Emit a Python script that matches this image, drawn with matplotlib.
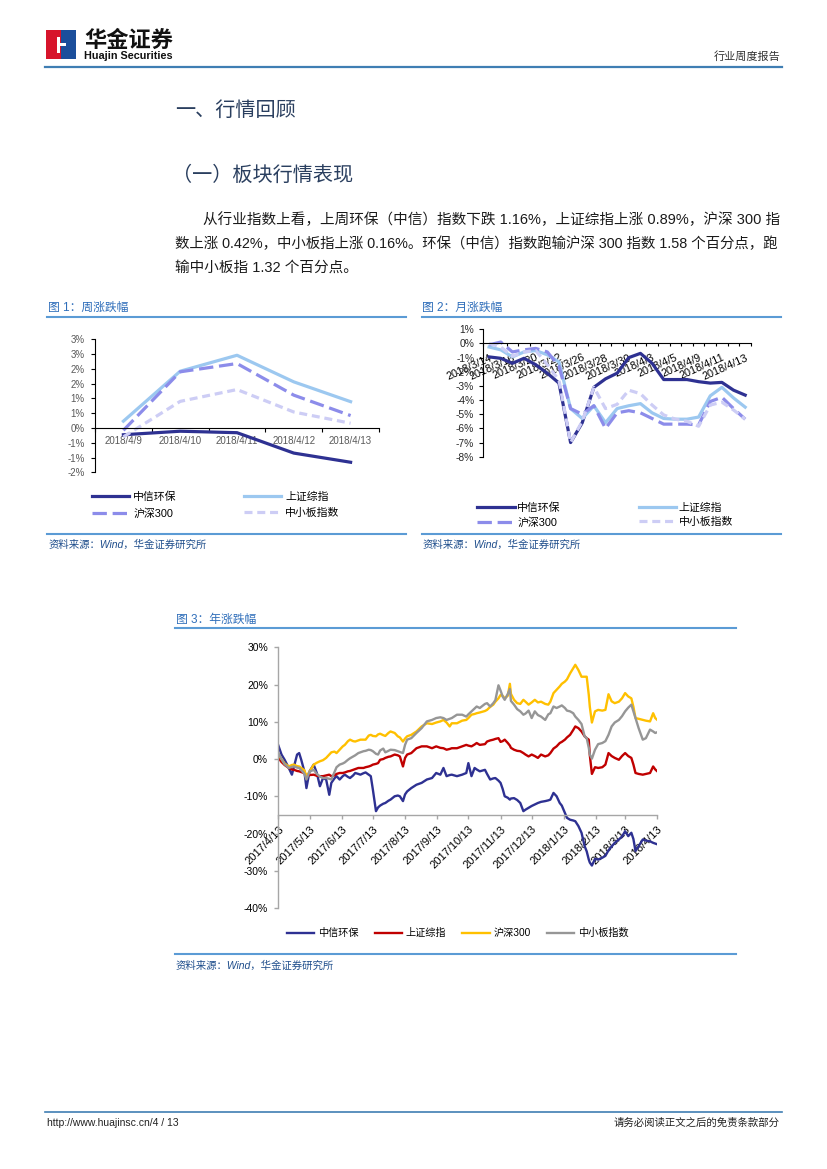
import numpy as np
import matplotlib
matplotlib.use('Agg')
import matplotlib.pyplot as plt
from matplotlib.lines import Line2D
from matplotlib.patches import Rectangle

plt.rcParams['font.family'] = ['Liberation Sans', 'Noto Sans CJK SC', 'DejaVu Sans']

# ---------------- data ----------------
names = ['中信环保', '上证综指', '沪深300', '中小板指数']

# 图1 周涨跌幅 (%)
week_dates = ['2018/4/9', '2018/4/10', '2018/4/11', '2018/4/12', '2018/4/13']
week_hb = [-0.23, -0.11, -0.16, -0.85, -1.16]
week_sz = [0.23, 1.92, 2.46, 1.56, 0.89]
week_hs300 = [-0.08, 1.90, 2.18, 1.11, 0.42]
week_zxb = [-0.30, 0.90, 1.30, 0.54, 0.16]
week_yticks = [-1.5, -1.0, -0.5, 0.0, 0.5, 1.0, 1.5, 2.0, 2.5, 3.0]
week_ylabels = ['-2%', '-1%', '-1%', '0%', '1%', '1%', '2%', '2%', '3%', '3%']

# 图2 月涨跌幅 (%)
month_dates = ['2018/3/14', '2018/3/15', '2018/3/16', '2018/3/19', '2018/3/20', '2018/3/21',
               '2018/3/22', '2018/3/23', '2018/3/26', '2018/3/27', '2018/3/28', '2018/3/29',
               '2018/3/30', '2018/4/2', '2018/4/3', '2018/4/4', '2018/4/5', '2018/4/6',
               '2018/4/9', '2018/4/10', '2018/4/11', '2018/4/12', '2018/4/13']
month_hb = [-0.95, -1.05, -1.4, -1.05, -1.5, -2.1, -2.8, -7.0, -5.6, -3.1, -2.5, -2.1,
            -1.0, -0.7, -1.4, -2.55, -2.55, -2.55, -2.7, -2.8, -2.75, -3.3, -3.65]
month_sz = [-0.25, -0.45, -0.95, -0.6, -0.5, -0.8, -1.3, -4.6, -5.3, -4.4, -5.6, -4.6,
            -4.4, -4.25, -4.9, -5.3, -5.35, -5.35, -5.2, -3.7, -3.1, -3.85, -4.5]
month_hs300 = [-0.1, 0.1, -0.6, -0.45, -0.35, -0.6, -1.6, -4.6, -5.0, -4.4, -6.0, -4.9,
               -4.75, -4.9, -5.3, -5.7, -5.7, -5.7, -5.75, -4.1, -3.8, -4.6, -5.35]
month_zxb = [0.0, -0.25, -0.9, -0.6, -0.5, -1.5, -2.6, -7.0, -5.5, -3.1, -4.6, -4.3,
             -3.3, -3.55, -4.35, -5.05, -5.35, -5.5, -5.85, -4.35, -4.15, -4.7, -5.35]
month_yticks = [-8, -7, -6, -5, -4, -3, -2, -1, 0, 1]

# 图3 年涨跌幅 (%), x = days since 2017-04-13
year_start = '2017-04-13'
year_days = [0, 3, 6, 10, 13, 15, 18, 20, 22, 25, 27, 30, 34, 37, 40, 43, 46, 49, 51, 54,
             56, 59, 62, 64, 67, 69, 72, 74, 77, 79, 82, 84, 87, 89, 91, 94, 96, 98, 101, 103,
             106, 108, 112, 115, 117, 120, 122, 124, 128, 133, 138, 143, 148, 152, 156, 159, 162, 165, 167, 172,
             177, 181, 183, 186, 189, 191, 194, 199, 201, 204, 207, 209, 212, 214, 216, 218, 221, 223, 224, 227,
             230, 233, 236, 238, 241, 244, 247, 250, 253, 257, 260, 262, 265, 268, 271, 273, 276, 278, 281, 284,
             286, 289, 292, 295, 297, 299, 300, 302, 305, 308, 312, 315, 318, 321, 324, 328, 331, 334, 337, 340,
             342, 344, 347, 351, 354, 358, 361, 363, 365]
year_hb = [3.6, 1.2, -0.2, -2.4, -4.2, -2.0, 1.2, 1.6, -0.2, -3.3, -7.8, -3.3, -1.5, -3.75, -7.3, -5.1, -5.5, -9.6, -6.4, -5.2,
           -4.6, -5.5, -4.6, -4.2, -4.8, -5.1, -4.4, -3.75, -4.0, -4.2, -3.8, -3.6, -4.2, -4.6, -8.2, -14.0, -13.0, -12.5, -12.0, -11.8,
           -11.2, -10.9, -10.0, -9.8, -10.0, -11.3, -9.5, -8.7, -7.8, -6.9, -6.4, -5.5, -5.1, -3.75, -4.2, -2.4, -4.6, -4.3, -4.2, -4.6,
           -4.2, -3.75, -1.1, -4.6, -2.4, -2.8, -3.3, -2.9, -4.0, -5.5, -5.2, -5.1, -5.8, -6.4, -8.0, -10.0, -10.4, -10.9, -10.6, -10.5,
           -11.0, -11.8, -14.0, -13.6, -13.1, -12.6, -12.2, -11.8, -11.5, -11.3, -11.1, -10.9, -9.1, -10.0, -11.8, -12.5, -14.5, -15.8, -16.3, -16.5,
           -16.7, -18.0, -19.8, -23.4, -24.8, -27.0, -27.8, -28.6, -26.8, -27.0, -26.5, -26.0, -24.5, -23.5, -22.5, -21.6, -20.8, -19.4, -20.7, -19.8,
           -21.5, -24.7, -23.4, -21.6, -21.9, -22.1, -22.5, -22.7, -22.9]
year_sz = [0.3, -0.8, -1.6, -2.4, -2.8, -2.9, -3.2, -3.3, -3.5, -3.8, -4.4, -4.3, -4.2, -4.5, -4.6, -4.6, -4.4, -4.2, -4.6, -4.4,
           -4.0, -3.75, -3.75, -3.6, -3.3, -3.2, -2.9, -2.7, -2.4, -2.4, -2.4, -2.2, -2.0, -1.8, -1.5, -1.3, -1.1, -0.2, 0.0, 0.3,
           0.6, 0.7, 1.2, 1.0, 0.7, -2.0, 0.3, 1.2, 1.6, 2.9, 3.4, 3.4, 2.9, 3.4, 3.0, 2.9, 2.5, 2.7, 2.9, 2.9,
           3.4, 3.8, 3.6, 3.4, 3.9, 4.3, 3.8, 4.0, 4.7, 5.0, 5.2, 5.4, 5.6, 4.6, 4.8, 5.2, 4.3, 3.6, 3.0, 2.5,
           2.2, 2.1, 1.6, 1.2, 0.7, 1.2, 0.8, 0.3, 1.2, 0.7, 1.0, 1.6, 2.8, 3.4, 4.3, 4.6, 5.2, 5.8, 6.5, 7.8,
           8.75, 8.3, 7.4, 6.1, 5.6, 5.2, 1.0, -4.0, -2.2, -2.4, -2.2, -1.5, 1.6, 0.8, 0.3, -0.2, 0.8, 1.6, 0.8, 0.3,
           -1.5, -3.75, -4.0, -4.2, -4.0, -3.75, -2.0, -2.8, -3.3]
year_hs300 = [1.2, 0.0, -1.2, -2.0, -1.6, -1.5, -1.9, -2.0, -2.4, -3.0, -4.6, -3.4, -1.5, -1.0, -0.6, -0.3, 0.3, 1.2, 1.8, 2.0,
              1.6, 2.5, 3.4, 3.8, 4.8, 5.2, 4.8, 4.7, 5.0, 5.2, 5.2, 5.2, 6.3, 6.5, 6.2, 6.1, 6.6, 6.8, 6.4, 6.2,
              7.0, 7.4, 7.0, 6.1, 5.8, 4.7, 5.5, 6.1, 6.5, 7.4, 8.75, 9.6, 9.4, 9.8, 10.1, 10.5, 9.8, 8.75, 9.6, 9.6,
              10.3, 10.5, 11.0, 11.9, 12.1, 12.3, 12.5, 12.9, 13.2, 14.0, 14.6, 15.4, 16.3, 17.2, 17.0, 16.3, 17.0, 20.2, 17.5, 15.9,
              15.0, 14.8, 15.9, 15.4, 14.6, 15.2, 15.9, 15.2, 15.4, 14.8, 14.6, 15.4, 17.7, 18.6, 19.5, 20.2, 20.8, 21.4, 23.0, 24.4,
              25.3, 23.9, 22.1, 22.1, 22.1, 17.2, 14.0, 9.8, 12.8, 13.2, 13.0, 13.2, 17.4, 15.5, 15.0, 15.4, 16.3, 17.7, 16.8, 16.3,
              14.0, 11.0, 10.8, 10.5, 10.3, 10.1, 12.3, 11.0, 10.5]
year_zxb = [1.6, 0.0, -1.4, -2.4, -2.1, -2.0, -2.3, -2.4, -3.0, -3.9, -5.5, -3.4, -2.9, -4.0, -4.7, -5.1, -5.1, -5.3, -5.5, -3.5,
            -2.2, -1.5, -1.2, -0.9, -0.2, 0.2, 0.7, 1.0, 1.6, 1.8, 2.1, 2.2, 2.5, 2.4, 2.1, 1.4, 1.2, 2.3, 2.8, 1.8,
            2.2, 2.5, 2.4, 2.1, 1.9, 1.6, 3.8, 5.2, 5.6, 7.0, 8.3, 10.1, 10.5, 11.0, 11.2, 11.0, 10.5, 10.8, 11.0, 11.9,
            11.9, 11.4, 12.0, 12.8, 13.6, 14.1, 13.7, 14.8, 15.0, 14.1, 15.0, 15.8, 19.8, 18.4, 16.8, 15.9, 17.5, 18.8, 15.6, 14.6,
            13.4, 12.8, 11.9, 12.2, 13.0, 11.0, 12.8, 11.8, 11.4, 10.5, 12.0, 12.3, 14.1, 13.7, 14.1, 14.4, 13.7, 13.0, 12.8, 12.3,
            11.4, 10.5, 9.4, 6.1, 5.6, 3.0, 1.2, 0.1, 2.5, 4.0, 4.3, 4.8, 6.5, 8.75, 9.8, 10.5, 11.5, 12.8, 13.8, 14.6,
            12.8, 11.0, 8.3, 5.2, 5.6, 7.9, 7.4, 7.0, 7.2]
year_xlabels = ['2017/4/13', '2017/5/13', '2017/6/13', '2017/7/13', '2017/8/13', '2017/9/13', '2017/10/13',
                '2017/11/13', '2017/12/13', '2018/1/13', '2018/2/13', '2018/3/13', '2018/4/13']
year_yticks = [-40, -30, -20, -10, 0, 10, 20, 30]

# ---------------- page ----------------
W, H = 827, 1169
fig = plt.figure(figsize=(W / 100, H / 100), dpi=100)


def px_rect(l, t, r, b):
    return [l / W, 1 - b / H, (r - l) / W, (b - t) / H]


def put(x, y, s, **kw):
    kw.setdefault('va', 'center')
    return fig.text(x / W, 1 - y / H, s, **kw)


def hline(x0, x1, y, color, lw):
    fig.add_artist(Line2D([x0 / W, x1 / W], [1 - y / H, 1 - y / H], color=color, lw=lw))


def box(l, t, r, b, color):
    fig.add_artist(Rectangle((l / W, 1 - b / H), (r - l) / W, (b - t) / H,
                             transform=fig.transFigure, color=color, lw=0))


# header
box(46, 30, 61, 59, '#D7142B')
box(61, 30, 76, 59, '#1B4E9B')
box(57, 37, 60, 53, 'white')
box(60, 43, 66, 46, 'white')
put(84, 40, '华金证券', fontsize=16, fontweight='bold', family='Noto Sans CJK SC', color='#111111')
put(84, 56, 'Huajin Securities', fontsize=7.8, fontweight='bold', color='#111111')
put(780, 57, '行业周度报告', fontsize=8, ha='right', color='#333333')
hline(45, 782, 67, '#3F7EB3', 1.6)

head_c = '#2A3F5F'
put(175, 110, '一、行情回顾', fontsize=14.5, color=head_c)
put(172, 175, '（一）板块行情表现', fontsize=14.5, color=head_c)
body_c = '#1A1A1A'
put(203, 220, '从行业指数上看，上周环保（中信）指数下跌 1.16%，上证综指上涨 0.89%，沪深 300 指',
    fontsize=10.5, color=body_c)
put(175, 244, '数上涨 0.42%，中小板指上涨 0.16%。环保（中信）指数跑输沪深 300 指数 1.58 个百分点，跑',
    fontsize=10.4, color=body_c)
put(175, 268, '输中小板指 1.32 个百分点。', fontsize=10.5, color=body_c)

title_c = '#2F6EBA'
line_c = '#5B9BD5'
src_c = '#1F4E8C'
src = '资料来源：Wind，华金证券研究所'

put(48, 308, '图 1：周涨跌幅', fontsize=8.5, color=title_c)
hline(47, 406, 317, line_c, 1.5)
hline(47, 406, 534, line_c, 1.5)
put(49, 545, src, fontsize=7.5, style='italic', color=src_c)

put(422, 308, '图 2：月涨跌幅', fontsize=8.5, color=title_c)
hline(422, 781, 317, line_c, 1.5)
hline(422, 781, 534, line_c, 1.5)
put(423, 545, src, fontsize=7.5, style='italic', color=src_c)

put(176, 620, '图 3：年涨跌幅', fontsize=8.5, color=title_c)
hline(175, 736, 628, line_c, 1.5)
hline(175, 736, 954, line_c, 1.5)
put(176, 966, src, fontsize=7.5, style='italic', color=src_c)

hline(45, 782, 1112, '#3F7EB3', 1.2)
put(47, 1123, 'http://www.huajinsc.cn/4 / 13', fontsize=7.5, color='#222222')
put(780, 1123, '请务必阅读正文之后的免责条款部分', fontsize=7.5, ha='right', color='#222222')

# colours
c_hb, c_sz, c_hs, c_zx = '#2E3192', '#9CC8F0', '#8C8CEA', '#CDCDF5'

# ---------------- 图1 ----------------
ax1 = fig.add_axes(px_rect(95, 339.3, 379, 472.3))
x1 = np.arange(len(week_dates))
l1 = ax1.plot(x1, week_hb, color=c_hb, lw=2.3)[0]
l2 = ax1.plot(x1, week_sz, color=c_sz, lw=2.3)[0]
l3 = ax1.plot(x1, week_hs300, color=c_hs, lw=2.3, dashes=(4.5, 1.8))[0]
l4 = ax1.plot(x1, week_zxb, color=c_zx, lw=2.3, dashes=(2.5, 1.5))[0]
ax1.set_xlim(-0.5, len(week_dates) - 0.5)
ax1.set_ylim(-1.5, 3.0)
for s in ['top', 'right']:
    ax1.spines[s].set_visible(False)
ax1.spines['bottom'].set_position(('data', 0))
for s in ['bottom', 'left']:
    ax1.spines[s].set_linewidth(0.8)
ax1.set_xticks(x1)
ax1.set_xticklabels(week_dates)
ax1.set_xticks(np.arange(-0.5, len(week_dates), 1), minor=True)
ax1.tick_params(axis='x', which='major', length=0, pad=5.5, labelsize=7, labelcolor='#595959')
ax1.tick_params(axis='x', which='minor', length=3, width=0.8)
ax1.set_yticks(week_yticks)
ax1.set_yticklabels(week_ylabels)
ax1.tick_params(axis='y', length=3, width=0.8, pad=4.5, labelsize=7, labelcolor='#595959')
ax1.patch.set_alpha(0)
ax1.legend([l1, l3, l2, l4], [names[0], names[2], names[1], names[3]], ncol=2,
           loc='upper left', bbox_to_anchor=(92 / W, 1 - 491 / H), bbox_transform=fig.transFigure,
           frameon=False, fontsize=7.8, handlelength=3.4, handletextpad=0.4,
           columnspacing=6.2, labelspacing=0.58, borderpad=0, borderaxespad=0)

# ---------------- 图2 ----------------
ax2 = fig.add_axes(px_rect(483.3, 329.3, 751, 456.7))
x2 = np.arange(len(month_dates))
m1 = ax2.plot(x2, month_hb, color=c_hb, lw=2.3)[0]
m2 = ax2.plot(x2, month_sz, color=c_sz, lw=2.3)[0]
m3 = ax2.plot(x2, month_hs300, color=c_hs, lw=2.3, dashes=(4.5, 1.8))[0]
m4 = ax2.plot(x2, month_zxb, color=c_zx, lw=2.3, dashes=(2.5, 1.5))[0]
ax2.set_xlim(-0.5, len(month_dates) - 0.5)
ax2.set_ylim(-8, 1)
for s in ['top', 'right']:
    ax2.spines[s].set_visible(False)
ax2.spines['bottom'].set_position(('data', 0))
for s in ['bottom', 'left']:
    ax2.spines[s].set_linewidth(0.8)
ax2.set_xticks(x2[::2])
ax2.set_xticklabels(month_dates[::2])
ax2.set_xticks(np.arange(-0.5, len(month_dates), 1), minor=True)
ax2.tick_params(axis='x', which='major', length=0, pad=6.5, labelsize=7.8, labelcolor='black')
ax2.tick_params(axis='x', which='minor', length=2.5, width=0.8)
for lab in ax2.get_xticklabels():
    lab.set_rotation(24)
    lab.set_ha('right')
    lab.set_rotation_mode('anchor')
ax2.set_yticks(month_yticks)
ax2.set_yticklabels([f'{v}%' for v in month_yticks])
ax2.tick_params(axis='y', length=3, width=0.8, pad=3.5, labelsize=7.4, labelcolor='#262626')
ax2.patch.set_alpha(0)
ax2.legend([m1, m3, m2, m4], [names[0], names[2], names[1], names[3]], ncol=2,
           loc='upper left', bbox_to_anchor=(477 / W, 1 - 502 / H), bbox_transform=fig.transFigure,
           frameon=False, fontsize=7.8, handlelength=3.5, handletextpad=0.2,
           columnspacing=7.2, labelspacing=0.43, borderpad=0, borderaxespad=0)

# ---------------- 图3 ----------------
ax3 = fig.add_axes(px_rect(278.4, 647.3, 657.3, 908))
base = np.datetime64(year_start)
x3 = base + np.array(year_days).astype('timedelta64[D]')
n1 = ax3.plot(x3, year_hb, color='#2E3192', lw=1.7)[0]
n2 = ax3.plot(x3, year_sz, color='#C00000', lw=1.7)[0]
n3 = ax3.plot(x3, year_hs300, color='#FFC000', lw=1.7)[0]
n4 = ax3.plot(x3, year_zxb, color='#969696', lw=1.7)[0]
ax3.set_xlim(base, base + np.timedelta64(365, 'D'))
ax3.set_ylim(-40, 30)
for s in ['top', 'right']:
    ax3.spines[s].set_visible(False)
ax3.spines['bottom'].set_position(('data', -15))
for s in ['bottom', 'left']:
    ax3.spines[s].set_color('#A6A6A6')
    ax3.spines[s].set_linewidth(1.0)
tick_dates = [np.datetime64('-'.join(f'{int(p):02d}' for p in d.split('/'))) for d in year_xlabels]
ax3.set_xticks(tick_dates)
ax3.set_xticklabels(year_xlabels)
ax3.tick_params(axis='x', length=3, width=1, color='#A6A6A6', pad=3.5, labelsize=8)
for lab in ax3.get_xticklabels():
    lab.set_rotation(45)
    lab.set_ha('right')
    lab.set_rotation_mode('anchor')
ax3.set_yticks(year_yticks)
ax3.set_yticklabels([f'{v}%' for v in year_yticks])
ax3.tick_params(axis='y', length=3, width=1, color='#A6A6A6', pad=4.5, labelsize=7.5)
ax3.patch.set_alpha(0)
ax3.legend([n1, n2, n3, n4], names, ncol=4, loc='center left',
           bbox_to_anchor=(287 / W, 1 - 933 / H), bbox_transform=fig.transFigure,
           frameon=False, fontsize=7.3, handlelength=2.7, handletextpad=0.35,
           columnspacing=1.6, borderpad=0, borderaxespad=0)

fig.savefig('out.png', dpi=100)
